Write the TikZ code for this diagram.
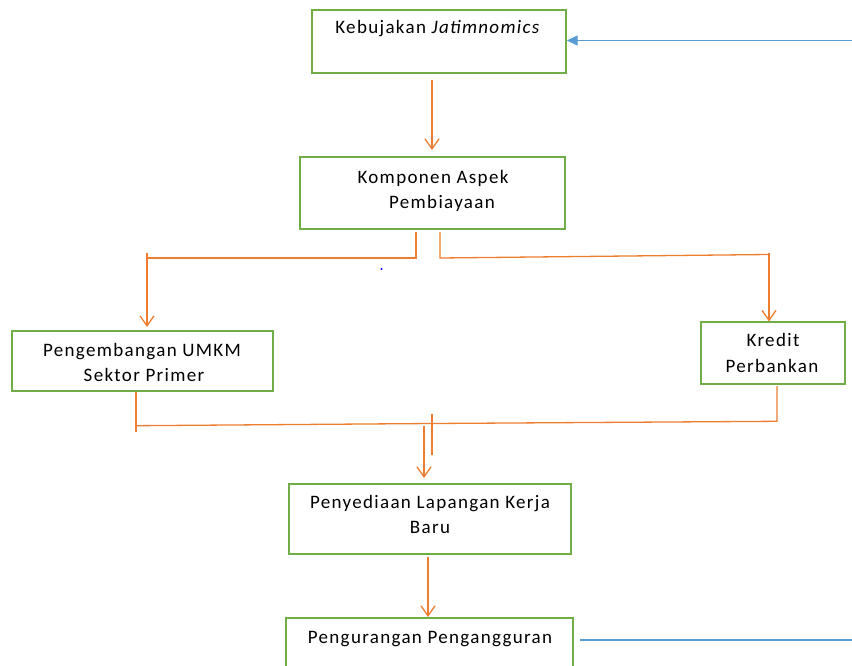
\documentclass[tikz,border=0pt]{standalone}
\usepackage{fontspec}
\setmainfont{Carlito}[LetterSpace=7]
\usetikzlibrary{arrows.meta}
\definecolor{boxgreen}{HTML}{70AD47}
\definecolor{lineorange}{HTML}{ED7D31}
\definecolor{lineblue}{HTML}{5B9BD5}
\tikzset{
  box/.style={draw=boxgreen, line width=1.4pt, inner sep=0pt},
  txt/.style={font=\fontsize{19}{25}\selectfont, align=center, inner sep=0pt, anchor=base},
  conn/.style={draw=lineorange, line width=1.3pt},
  oarrow/.style={conn, -{Straight Barb[length=10pt,width=14pt,line width=1.3pt]}},
  barrow/.style={draw=lineblue, line width=1.3pt, -{Triangle[length=11pt,width=10pt]}},
  bline/.style={draw=lineblue, line width=1.3pt}
}
\begin{document}
\begin{tikzpicture}[x=1pt,y=-1pt]
\useasboundingbox (0,0) rectangle (852,666);
% boxes
\node[box, minimum width=254pt, minimum height=63pt] (b1) at (439,41.5) {};
\node[box, minimum width=265pt, minimum height=72pt] (b2) at (432.5,193) {};
\node[box, minimum width=261pt, minimum height=60pt] (b3) at (142.5,361) {};
\node[box, minimum width=144pt, minimum height=62pt] (b4) at (773,353) {};
\node[box, minimum width=282pt, minimum height=70pt] (b5) at (430,519) {};
\node[box, minimum width=287pt, minimum height=60pt] (b6) at (429.5,648) {};
% texts
\node[txt] (t1) at (438,34) {Kebujakan \textit{Jatimnomics}};
\node[txt] (t2a) at (433,183) {Komponen Aspek};
\node[txt] (t2b) at (442,208) {Pembiayaan};
\node[txt] (t3a) at (142,356) {Pengembangan UMKM};
\node[txt] (t3b) at (144,381) {Sektor Primer};
\node[txt] (t4a) at (773,346) {Kredit};
\node[txt] (t4b) at (772,372) {Perbankan};
\node[txt] (t5a) at (430,508) {Penyediaan Lapangan Kerja};
\node[txt] (t5b) at (430,533) {Baru};
\node[txt] (t6) at (430,643) {Pengurangan Pengangguran};
% coordinates
\coordinate (a1s) at (432,80);
\coordinate (a1e) at (432,150);
\coordinate (a2s) at (416,232);
\coordinate (a2c) at (416,258);
\coordinate (lt) at (147,252.5);
\coordinate (lc) at (147,258);
\coordinate (le) at (147,327);
\coordinate (a3s) at (440,232);
\coordinate (a3c) at (440,258);
\coordinate (rt) at (769,252.5);
\coordinate (rc) at (769,254.5);
\coordinate (re) at (769,321.5);
\coordinate (l3s) at (136,392);
\coordinate (l3e) at (136,432);
\coordinate (l3c) at (136,425.7);
\coordinate (m1) at (424,425.5);
\coordinate (m1e) at (424,478);
\coordinate (mt) at (432,414);
\coordinate (mb) at (432,455);
\coordinate (mc) at (432,423.5);
\coordinate (r4s) at (777,386);
\coordinate (r4c) at (777,421.3);
\coordinate (a5s) at (428,557);
\coordinate (a5e) at (428,617);
\coordinate (bl1) at (852,40.5);
\coordinate (bl2s) at (580,640);
\coordinate (bl2e) at (852,640);
% connectors
\draw[oarrow] (a1s) -- (a1e);
\draw[conn] (a2s) -- (a2c) -- (lc);
\draw[oarrow] (lt) -- (le);
\draw[conn] (a3s) -- (a3c) -- (rc);
\draw[oarrow] (rt) -- (re);
\draw[conn] (l3s) -- (l3e);
\draw[conn] (l3c) -- (mc) -- (r4c) -- (r4s);
\draw[conn] (mt) -- (mb);
\draw[oarrow] (m1) -- (m1e);
\draw[oarrow] (a5s) -- (a5e);
\draw[barrow] (bl1) -- (b1.east |- bl1);
\draw[bline] (bl2s) -- (bl2e);
\fill[blue] (381.5,269) circle (1.1pt) node (dot) {};
\end{tikzpicture}
\end{document}
